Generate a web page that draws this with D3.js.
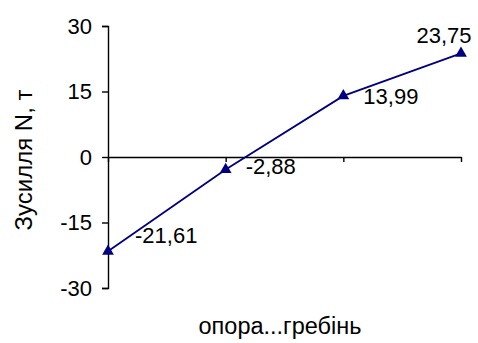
<!DOCTYPE html>
<html>
<head>
<meta charset="utf-8">
<script src="https://cdn.jsdelivr.net/npm/d3@7"></script>
<style>
  html, body { margin: 0; padding: 0; background: #fff; }
  svg text { font-family: "Liberation Sans", Arial, sans-serif; fill: #000; }
</style>
</head>
<body>
<svg id="chart" width="478" height="343"></svg>
<script>
// Axial force along the member, from the support to the ridge
const points = ["1", "2", "3", "4"];
const forces = [-21.61, -2.88, 13.99, 23.75];
const yTicks = [-30, -15, 0, 15, 30];
const yTitle = "Зусилля N, т";
const xTitle = "опора...гребінь";

// label placement relative to each marker (dx, dy, anchor)
const labelOffsets = [
  { dx: 27, dy: -16, anchor: "start" },
  { dx: 20, dy: -3, anchor: "start" },
  { dx: 20, dy: 0, anchor: "start" },
  { dx: -17, dy: -18, anchor: "middle" }
];

const navy = "#000080";
const fmt = v => v.toFixed(2).replace(".", ",");

const svg = d3.select("#chart");

const x = d3.scalePoint().domain(points).range([108, 461]);
const y = d3.scaleLinear().domain([-30, 30]).range([288, 26]);

// value axis
const yAxis = svg.append("g")
  .attr("transform", "translate(108,0)")
  .call(d3.axisLeft(y).tickValues(yTicks).tickSize(6).tickPadding(10)
    .tickFormat(d => String(d)));
yAxis.select(".domain").attr("stroke", "#000").attr("stroke-width", 1.4);
yAxis.selectAll(".tick line").attr("stroke", "#000").attr("stroke-width", 1.4);
yAxis.selectAll(".tick text").attr("font-size", 22)
  .style("font-family", "'Liberation Sans', Arial, sans-serif");

// category axis drawn along zero
const xAxis = svg.append("g")
  .attr("transform", `translate(0,${y(0)})`)
  .call(d3.axisBottom(x).tickSize(5).tickSizeOuter(0).tickFormat(""));
xAxis.select(".domain").attr("stroke", "#000").attr("stroke-width", 1.4);
xAxis.selectAll(".tick line").attr("stroke", "#000").attr("stroke-width", 1.4);

// series line
const line = d3.line().x((d, i) => x(points[i])).y(d => y(d));
svg.append("path")
  .datum(forces)
  .attr("d", line)
  .attr("fill", "none")
  .attr("stroke", navy)
  .attr("stroke-width", 1.8);

// triangle markers
const tri = d3.symbol().type(d3.symbolTriangle).size(60);
svg.selectAll(".marker")
  .data(forces)
  .join("path")
  .attr("class", "marker")
  .attr("d", tri)
  .attr("fill", navy)
  .attr("transform", (d, i) => `translate(${x(points[i])},${y(d)})`);

// value labels
svg.selectAll(".val")
  .data(forces)
  .join("text")
  .attr("class", "val")
  .attr("x", (d, i) => x(points[i]) + labelOffsets[i].dx)
  .attr("y", (d, i) => y(d) + labelOffsets[i].dy)
  .attr("dy", "0.35em")
  .attr("text-anchor", (d, i) => labelOffsets[i].anchor)
  .attr("font-size", 22)
  .text(d => fmt(d));

// axis titles
svg.append("text")
  .attr("transform", "translate(32,160) rotate(-90)")
  .attr("text-anchor", "middle")
  .attr("font-size", 24)
  .text(yTitle);

svg.append("text")
  .attr("x", 280)
  .attr("y", 334)
  .attr("text-anchor", "middle")
  .attr("font-size", 23.5)
  .text(xTitle);
</script>
</body>
</html>
